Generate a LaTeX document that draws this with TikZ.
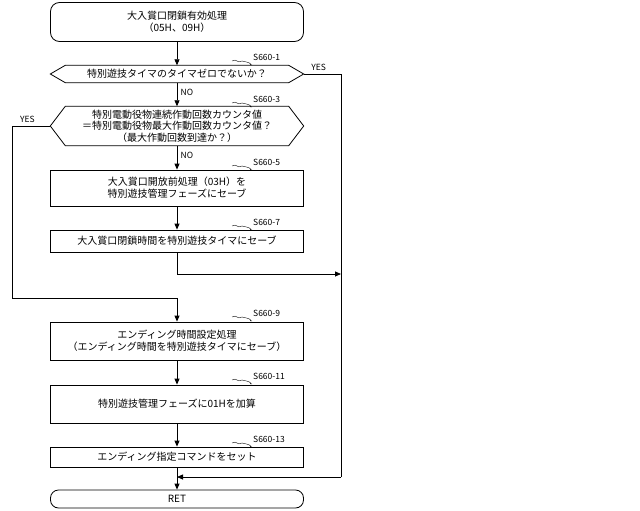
\documentclass[tikz,border=0pt]{standalone}
\usepackage{fontspec}
\setmainfont{Noto Sans CJK JP}
\usetikzlibrary{arrows.meta, positioning}
\tikzset{
    termbox/.style = {rectangle, draw, thick, rounded corners=9pt, minimum width=253pt, align=center, font=\fontsize{10}{12}\selectfont},
    procbox/.style = {rectangle, draw, thick, minimum width=253pt, align=center, font=\fontsize{10}{12}\selectfont},
    decbox/.style = {rectangle, minimum width=253pt, align=center, font=\fontsize{10}{11.5}\selectfont},
    line/.style = {draw, thick, -{Triangle[length=6pt, width=5pt]}},
    tag/.style = {font=\fontsize{8.5}{9}\selectfont, anchor=west, inner sep=1pt},
    flag/.style = {font=\fontsize{8.5}{9}\selectfont}
}
\newcommand{\hexa}[1]{\draw[thick] (#1.west) -- ([xshift=15pt]#1.north west) -- ([xshift=-15pt]#1.north east) -- (#1.east) -- ([xshift=-15pt]#1.south east) -- ([xshift=15pt]#1.south west) -- cycle;}
\newcommand{\squig}[2]{\draw (#1) .. controls +(5pt,3pt) and +(-5pt,-3pt) .. +(10pt,0pt) .. controls +(15pt,-3pt) and +(-5pt,0pt) .. +(20pt,-4pt);\node[tag] at ([xshift=20pt,yshift=4pt]#1) {#2};}
\begin{document}
\begin{tikzpicture}[x=1pt, y=-1pt]
    \useasboundingbox (0,0) rectangle (640,511);
    \node[termbox, minimum height=39pt] (start) at (177,22) {大入賞口閉鎖有効処理\\（05H、09H）};
    \node[decbox, minimum height=17pt] (tmr) at (177,74) {特別遊技タイマのタイマゼロでないか？};
    \hexa{tmr}
    \node[decbox, minimum height=38pt] (cnt) at (177,126) {特別電動役物連続作動回数カウンタ値\\＝特別電動役物最大作動回数カウンタ値？\\（最大作動回数到達か？）};
    \hexa{cnt}
    \node[procbox, minimum height=36pt] (open) at (177,188) {大入賞口開放前処理（03H）を\\特別遊技管理フェーズにセーブ};
    \node[procbox, minimum height=22pt] (close) at (177,241) {大入賞口閉鎖時間を特別遊技タイマにセーブ};
    \node[procbox, minimum height=38pt] (ending) at (177,341) {エンディング時間設定処理\\（エンディング時間を特別遊技タイマにセーブ）};
    \node[procbox, minimum height=38pt] (phase) at (177,404) {特別遊技管理フェーズに01Hを加算};
    \node[procbox, minimum height=20pt] (cmd) at (177,457) {エンディング指定コマンドをセット};
    \node[termbox, rounded corners=8pt, minimum height=18pt] (ret) at (177,499) {RET};

    % step tags
    \squig{232,61}{S660-1}
    \squig{232,103}{S660-3}
    \squig{232,166}{S660-5}
    \squig{232,226}{S660-7}
    \squig{232,317}{S660-9}
    \squig{232,380}{S660-11}
    \squig{232,443}{S660-13}

    % merge points
    \coordinate (rtop) at (341,74);
    \coordinate (rmid) at (341,274);
    \coordinate (rbot) at (341,477);
    \coordinate (cbot) at (177,274);
    \coordinate (lmid) at (12,126);
    \coordinate (lbot) at (12,298);
    \coordinate (jbot) at (177,298);
    \coordinate (jret) at (177,477);

    \path[line] (start) -- (tmr);
    \path[line] (tmr) -- node[flag, right, pos=0.4] {NO} (cnt);
    \path[line] (cnt) -- node[flag, right, pos=0.4] {NO} (open);
    \path[line] (open) -- (close);
    \draw[thick] (close) -- (cbot);
    \path[line] (cbot) -- (rmid);
    \draw[thick] (tmr.east) -- node[flag, above, pos=0.4] {YES} (rtop) -- (rbot);
    \path[line] (rbot) -- (jret);
    \draw[thick] (cnt.west) -- node[flag, above, pos=0.6] {YES} (lmid) -- (lbot) -- (jbot);
    \path[line] (jbot) -- (ending);
    \path[line] (ending) -- (phase);
    \path[line] (phase) -- (cmd);
    \path[line] (cmd) -- (ret);
\end{tikzpicture}
\end{document}
